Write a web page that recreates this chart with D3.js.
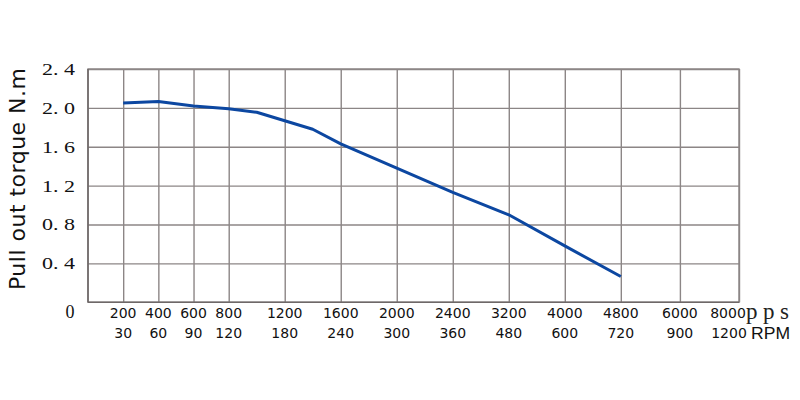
<!DOCTYPE html>
<html><head><meta charset="utf-8">
<script src="https://cdn.jsdelivr.net/npm/d3@7"></script>
<style>body{margin:0;background:#fff}svg{display:block}</style>
</head><body>
<svg id="c" width="800" height="400"></svg>
<script>
// Data
const ppsTicks = [0, 200, 400, 600, 800, 1200, 1600, 2000, 2400, 3200, 4000, 4800, 6000, 8000];
const rpmTicks = [0, 30, 60, 90, 120, 180, 240, 300, 360, 480, 600, 720, 900, 1200];
const yTicks = [0.4, 0.8, 1.2, 1.6, 2.0, 2.4];
const yTickLabels = ["0. 4", "0. 8", "1. 2", "1. 6", "2. 0", "2. 4"];
const curvePps = [200, 400, 600, 800, 1000, 1400, 1600, 2000, 2400, 3200, 4000, 4800];
const curveTorque = [2.05, 2.065, 2.02, 1.99, 1.955, 1.78, 1.63, 1.38, 1.13, 0.90, 0.58, 0.265];

const svg = d3.select("#c");
const L = 88, R = 739, T = 69, B = 302.3;
const w = ppsTicks.slice(1).map((d, i) => i < 4 ? 0.628 : (i < 11 ? 1 : 1.055));
const tot = d3.sum(w);
let acc = 0;
const rangeX = [L].concat(w.map(v => { acc += v; return L + (R - L) * acc / tot; }));
const x = d3.scaleLinear().domain(ppsTicks).range(rangeX);
const y = d3.scaleLinear().domain([0, 2.4]).range([B, T]);

const gridColor = "#8c8686";
const gy = svg.append("g").attr("transform", `translate(${L},0)`)
  .call(d3.axisLeft(y).tickValues(yTicks).tickSize(-(R - L)).tickFormat(""));
gy.select(".domain").remove();
gy.selectAll("line").attr("stroke", gridColor).attr("stroke-width", 1.4);
const gx = svg.append("g").attr("transform", `translate(0,${B})`)
  .call(d3.axisBottom(x).tickValues(ppsTicks.slice(1)).tickSize(-(B - T)).tickFormat(""));
gx.select(".domain").remove();
gx.selectAll("line").attr("stroke", gridColor).attr("stroke-width", 1.4);
svg.append("rect").attr("x", L).attr("y", T).attr("width", R - L).attr("height", B - T)
  .attr("fill", "none").attr("stroke", gridColor).attr("stroke-width", 1.4);
svg.append("line").attr("x1", L).attr("x2", L).attr("y1", T).attr("y2", B)
  .attr("stroke", "#6e6868").attr("stroke-width", 1.6);
svg.append("line").attr("x1", L).attr("x2", R).attr("y1", B).attr("y2", B)
  .attr("stroke", "#6e6868").attr("stroke-width", 1.6);

const pts = curvePps.map((p, i) => [p, curveTorque[i]]);
svg.append("path").datum(pts)
  .attr("d", d3.line().x(d => x(d[0])).y(d => y(d[1])))
  .attr("fill", "none").attr("stroke", "#0c47a1").attr("stroke-width", 3)
  .attr("stroke-linejoin", "round");

// y tick labels
svg.append("g").selectAll("text").data(yTicks).join("text")
  .attr("x", 42).attr("y", d => y(d)).attr("dy", "0.35em")
  .attr("xml:space", "preserve")
  .attr("font-family", "Liberation Serif, serif").attr("font-size", 17).attr("fill", "#111")
  .attr("textLength", 33).attr("lengthAdjust", "spacingAndGlyphs")
  .text((d, i) => yTickLabels[i]);
svg.append("text").attr("x", 70).attr("y", 312).attr("dy", "0.35em")
  .attr("text-anchor", "middle")
  .attr("font-family", "Liberation Serif, serif").attr("font-size", 18).attr("fill", "#111")
  .text("0");

// x tick labels
const xf = "DejaVu Sans, sans-serif";
const nT = ppsTicks.length - 1;
svg.append("g").selectAll("text").data(ppsTicks.slice(1)).join("text")
  .attr("x", (d, i) => x(d) + (i === nT - 1 ? -11 : 0)).attr("y", 313).attr("dy", "0.35em").attr("text-anchor", "middle")
  .attr("font-family", xf).attr("font-size", 14).attr("fill", "#111")
  .text(d => d);
svg.append("g").selectAll("text").data(rpmTicks.slice(1)).join("text")
  .attr("x", (d, i) => x(ppsTicks[i + 1]) + (i === nT - 1 ? -10 : 0)).attr("y", 333).attr("dy", "0.35em").attr("text-anchor", "middle")
  .attr("font-family", xf).attr("font-size", 14).attr("fill", "#111")
  .text(d => d);
svg.append("text").attr("x", 746).attr("y", 311).attr("dy", "0.35em")
  .attr("font-family", "Liberation Serif, serif").attr("font-size", 23)
  .attr("textLength", 43).attr("lengthAdjust", "spacing")
  .attr("fill", "#222").text("pps");
svg.append("text").attr("x", 751).attr("y", 333).attr("dy", "0.35em")
  .attr("font-family", "Liberation Sans, Arial, sans-serif").attr("font-size", 17)
  .attr("textLength", 39).attr("lengthAdjust", "spacingAndGlyphs")
  .attr("fill", "#111").text("RPM");

// y title
svg.append("text")
  .attr("transform", `translate(25,${(68 + 290) / 2}) rotate(-90)`)
  .attr("text-anchor", "middle")
  .attr("font-family", "DejaVu Sans, sans-serif").attr("font-size", 22).attr("fill", "#111")
  .attr("textLength", 222).attr("lengthAdjust", "spacing")
  .text("Pull out torque N.m");
</script>
</body></html>
